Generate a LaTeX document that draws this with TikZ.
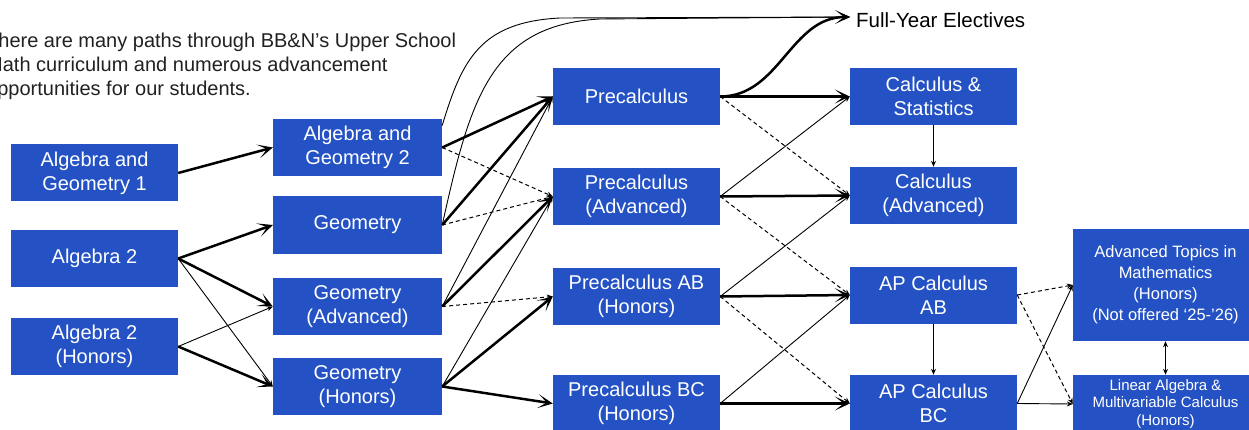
\documentclass[tikz,border=0pt]{standalone}
\usepackage{fontspec}
\setmainfont{Liberation Sans}
\definecolor{bbnblue}{RGB}{36, 82, 196}
\usetikzlibrary{arrows.meta, positioning, calc}

\begin{document}
\begin{tikzpicture}[x=1pt, y=-1pt,
    course/.style={fill=bbnblue, text=white, align=center, inner sep=0pt,
      minimum width=167pt, minimum height=57pt, font=\fontsize{20}{24}\selectfont},
    main/.style={line width=2.5pt, -{Stealth[length=15pt, width=14pt, inset=9pt]}},
    alt/.style={line width=0.9pt, -{Stealth[length=6pt, width=5pt]}},
    twoway/.style={line width=0.9pt, {Stealth[length=6pt, width=5pt]}-{Stealth[length=6pt, width=5pt]}},
    opt/.style={line width=1pt, dash pattern=on 4pt off 3pt, -{Stealth[length=6pt, width=5pt]}}]
  \useasboundingbox (0,0) rectangle (1249,430);
  \clip (0,0) rectangle (1249,430);

  \node[anchor=north west, align=left, inner sep=0pt, text=black!87,
    font=\fontsize{20}{24}\selectfont] (intro) at (-14,33)
    {There are many paths through BB\&N’s Upper School\\Math curriculum and numerous advancement\\opportunities for our students.};

  \node[course] (ag1) at (94.5,173) {Algebra and\\Geometry 1};
  \node[course] (alg2) at (94.5,258.5) {Algebra 2};
  \node[course] (alg2h) at (94.5,346.5) {Algebra 2\\(Honors)};

  \node[course, minimum width=169pt] (ag2) at (357.5,147.5) {Algebra and\\Geometry 2};
  \node[course, minimum width=169pt] (geo) at (357.5,225) {Geometry};
  \node[course, minimum width=169pt] (geoadv) at (357.5,306.5) {Geometry\\(Advanced)};
  \node[course, minimum width=169pt] (geoh) at (357.5,386.5) {Geometry\\(Honors)};

  \node[course] (pre) at (636.5,96.5) {Precalculus};
  \node[course] (preadv) at (636.5,196.5) {Precalculus\\(Advanced)};
  \node[course] (preab) at (636.5,296.5) {Precalculus AB\\(Honors)};
  \node[course] (prebc) at (636.5,403.5) {Precalculus BC\\(Honors)};

  \node[course] (calcstat) at (933.5,96.5) {Calculus \&\\Statistics};
  \node[course] (calcadv) at (933.5,195.5) {Calculus\\(Advanced)};
  \node[course] (apab) at (933.5,295) {AP Calculus\\AB};
  \node[course] (apbc) at (933.5,403.5) {AP Calculus\\BC};

  \node[course, minimum width=185pt, minimum height=112pt,
    font=\fontsize{16.5}{21}\selectfont] (topics) at (1165.5,285)
    {Advanced Topics in\\Mathematics\\(Honors)\\(Not offered ‘25-’26)};
  \node[course, minimum width=185pt, minimum height=58pt,
    font=\fontsize{15}{17.5}\selectfont] (linalg) at (1165.5,404)
    {Linear Algebra \&\\Multivariable Calculus\\(Honors)};

  \node[anchor=base west, inner sep=0pt, font=\fontsize{20.5}{24}\selectfont] (electives) at (856,28) {Full-Year Electives};
  \coordinate (fye) at (850,17);

  \draw[main] (ag1.east) -- (ag2.west);
  \draw[main] (alg2.east) -- (geo.west);
  \draw[main] (alg2.east) -- (geoadv.west);
  \draw[alt] (alg2.east) -- (geoh.west);
  \draw[alt] (alg2h.east) -- (geoadv.west);
  \draw[main] (alg2h.east) -- (geoh.west);

  \draw[main] (ag2.east) -- (pre.west);
  \draw[opt] (ag2.east) -- (preadv.west);
  \draw[main] (geo.east) -- (pre.west);
  \draw[opt] (geo.east) -- (preadv.west);
  \draw[alt] (geoadv.east) -- (pre.west);
  \draw[main] (geoadv.east) -- (preadv.west);
  \draw[opt] (geoadv.east) -- (preab.west);
  \draw[alt] (geoh.east) -- (preadv.west);
  \draw[main] (geoh.east) -- (preab.west);
  \draw[main] (geoh.east) -- (prebc.west);

  \draw[alt] ([yshift=22pt]ag2.east) .. controls (462,60) and (480,22) .. (560,18) -- (fye);
  \draw[alt] (geo.east) .. controls (470,100) and (490,25) .. (600,19) -- (fye);
  \draw[main] (pre.east) to[out=0, in=180] (fye);

  \draw[main] (pre.east) -- (calcstat.west);
  \draw[opt] (pre.east) -- (calcadv.west);
  \draw[alt] (preadv.east) -- (calcstat.west);
  \draw[main] (preadv.east) -- (calcadv.west);
  \draw[opt] (preadv.east) -- (apab.west);
  \draw[alt] (preab.east) -- (calcadv.west);
  \draw[main] (preab.east) -- (apab.west);
  \draw[opt] (preab.east) -- (apbc.west);
  \draw[alt] (prebc.east) -- (apab.west);
  \draw[main] (prebc.east) -- (apbc.west);

  \draw[alt] (calcstat.south) -- (calcadv.north);
  \draw[alt] (apab.south) -- (apbc.north);
  \draw[opt] (apab.east) -- (topics.west);
  \draw[opt] (apab.east) -- (linalg.west);
  \draw[alt] (apbc.east) -- (topics.west);
  \draw[alt] (apbc.east) -- (linalg.west);
  \draw[twoway] (topics.south) -- (linalg.north);
\end{tikzpicture}
\end{document}
